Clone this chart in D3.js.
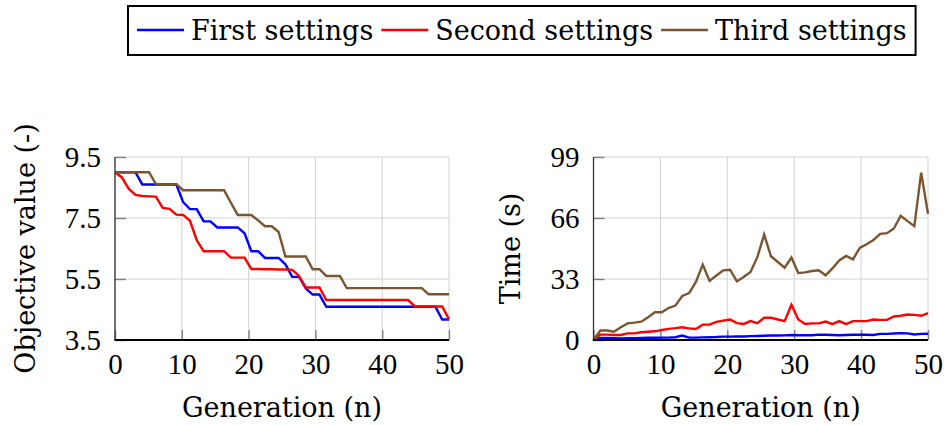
<!DOCTYPE html>
<html>
<head>
<meta charset="utf-8">
<script src="https://cdn.jsdelivr.net/npm/d3@7"></script>
<style>
  html, body { margin: 0; padding: 0; background: #fff; }
  svg { display: block; }
  text { font-family: "DejaVu Serif", "Liberation Serif", serif; fill: #000; }
</style>
</head>
<body>
<svg id="chart" width="944" height="425"></svg>
<script>
// ---------- data ----------
const generations = [0, 1.02, 2.04, 3.06, 4.08, 5.10, 6.12, 7.14, 8.16, 9.18,
  10.20, 11.22, 12.24, 13.27, 14.29, 15.31, 16.33, 17.35, 18.37, 19.39,
  20.41, 21.43, 22.45, 23.47, 24.49, 25.51, 26.53, 27.55, 28.57, 29.59,
  30.61, 31.63, 32.65, 33.67, 34.69, 35.71, 36.73, 37.76, 38.78, 39.80,
  40.82, 41.84, 42.86, 43.88, 44.90, 45.92, 46.94, 47.96, 48.98, 50];

const seriesNames = ["First settings", "Second settings", "Third settings"];

const objFirst = [9.0, 9.0, 9.0, 9.0, 8.6, 8.6, 8.6, 8.6, 8.6, 8.6,
  8.02, 7.79, 7.79, 7.39, 7.39, 7.19, 7.19, 7.19, 7.19, 7.0,
  6.41, 6.41, 6.19, 6.19, 6.19, 5.98, 5.57, 5.57, 5.19, 4.99,
  4.99, 4.59, 4.59, 4.59, 4.59, 4.59, 4.59, 4.59, 4.59, 4.59,
  4.59, 4.59, 4.59, 4.59, 4.59, 4.59, 4.59, 4.59, 4.17, 4.17];
const objSecond = [9.0, 8.83, 8.46, 8.26, 8.22, 8.21, 8.2, 7.83, 7.8, 7.61,
  7.6, 7.41, 6.77, 6.41, 6.41, 6.41, 6.41, 6.2, 6.2, 6.2,
  5.83, 5.83, 5.82, 5.82, 5.81, 5.81, 5.8, 5.6, 5.22, 5.22,
  5.22, 4.81, 4.81, 4.81, 4.81, 4.81, 4.81, 4.81, 4.81, 4.81,
  4.81, 4.81, 4.81, 4.81, 4.6, 4.6, 4.6, 4.6, 4.6, 4.18];
const objThird = [9.0, 9.0, 9.0, 9.0, 9.0, 9.0, 8.61, 8.61, 8.61, 8.61,
  8.41, 8.41, 8.41, 8.41, 8.41, 8.41, 8.41, 8.0, 7.6, 7.6,
  7.6, 7.42, 7.23, 7.23, 7.04, 6.24, 6.24, 6.24, 6.24, 5.82,
  5.82, 5.6, 5.6, 5.6, 5.2, 5.2, 5.2, 5.2, 5.2, 5.2,
  5.2, 5.2, 5.2, 5.2, 5.2, 5.2, 5.0, 5.0, 5.0, 5.0];

const timeFirst = [0, 1.1, 1.1, 1.0, 0.9, 1.0, 1.0, 1.1, 1.2, 1.2,
  1.3, 1.3, 1.5, 2.4, 1.3, 1.3, 1.4, 1.5, 1.6, 1.8,
  1.8, 1.9, 1.9, 2.1, 2.2, 2.3, 2.4, 2.4, 2.5, 2.7,
  2.6, 2.6, 2.6, 2.9, 2.8, 2.7, 2.6, 2.7, 2.8, 2.8,
  2.8, 2.7, 3.3, 3.3, 3.5, 3.7, 3.6, 3.0, 3.3, 3.4];
const timeSecond = [0, 2.9, 2.9, 2.7, 2.7, 3.6, 3.6, 4.2, 4.5, 4.7,
  5.4, 6.0, 6.4, 6.9, 6.3, 6.0, 8.3, 8.3, 9.8, 10.5,
  11.1, 9.1, 8.7, 10.2, 9.1, 12.0, 12.0, 11.1, 10.2, 19.1,
  11.1, 8.7, 9.0, 9.0, 10.0, 8.6, 10.2, 8.6, 10.2, 10.2,
  10.2, 11.1, 10.9, 10.9, 12.7, 13.1, 13.8, 13.6, 13.1, 14.5];
const timeThird = [0, 5.1, 5.1, 4.5, 6.9, 9.0, 9.4, 9.9, 12.3, 15.0,
  15.0, 17.3, 18.6, 23.8, 25.4, 31.4, 40.8, 32.0, 34.9, 37.7,
  38.0, 31.7, 34.1, 36.8, 44.8, 57.0, 45.3, 42.2, 39.1, 44.6,
  36.2, 36.6, 37.3, 37.7, 35.0, 38.7, 43.0, 45.5, 43.6, 49.8,
  51.8, 54.1, 57.4, 57.8, 60.3, 67.2, 64.3, 61.6, 90.5, 68.3];

const xTicks = [0, 10, 20, 30, 40, 50];
const objTicks = [3.5, 5.5, 7.5, 9.5];
const timeTicks = [0, 33, 66, 99];

const xLabel = "Generation (n)";
const objLabel = "Objective value (-)";
const timeLabel = "Time (s)";

// ---------- styling ----------
const colors = ["#0000ff", "#ff0000", "#7a5530"];
const FS = 27;       // label / legend font size
const TICK_FS = 29;  // tick label font size

const svg = d3.select("#chart");
svg.append("rect").attr("width", 944).attr("height", 425).attr("fill", "#fff");

function panel(opts) {
  const { left, right, top, bottom, yDomain, yTicks, yFmt, series, ylabel, ylabelX } = opts;
  const x = d3.scaleLinear().domain([0, 50]).range([left, right]);
  const y = d3.scaleLinear().domain(yDomain).range([bottom, top]);
  const g = svg.append("g");

  // grid
  g.append("g").selectAll("line").data(xTicks).join("line")
    .attr("x1", d => x(d)).attr("x2", d => x(d))
    .attr("y1", top).attr("y2", bottom)
    .attr("stroke", "#d2d2d2").attr("stroke-width", 1);
  g.append("g").selectAll("line").data(yTicks).join("line")
    .attr("x1", left).attr("x2", right)
    .attr("y1", d => y(d)).attr("y2", d => y(d))
    .attr("stroke", "#d2d2d2").attr("stroke-width", 1);

  // axes (ticks + labels)
  const xa = g.append("g").attr("transform", `translate(0,${bottom})`)
    .call(d3.axisBottom(x).tickValues(xTicks).tickSize(-10).tickPadding(13).tickFormat(d3.format("d")));
  const ya = g.append("g").attr("transform", `translate(${left},0)`)
    .call(d3.axisLeft(y).tickValues(yTicks).tickSize(-11).tickPadding(14).tickFormat(yFmt));
  [xa, ya].forEach(a => {
    a.select(".domain").remove();
    a.selectAll(".tick line").attr("stroke", "#808080").attr("stroke-width", 1.4);
    a.selectAll(".tick text")
      .style("font-family", '"Liberation Serif", "DejaVu Serif", serif')
      .style("font-size", TICK_FS + "px").attr("fill", "#000");
  });

  // lines
  const line = d3.line().x((d, i) => x(generations[i])).y(d => y(d));
  series.forEach((s, k) => {
    g.append("path").datum(s).attr("d", line)
      .attr("fill", "none").attr("stroke", colors[k]).attr("stroke-width", 2.4)
      .attr("stroke-linejoin", "miter");
  });

  // spines
  g.append("line").attr("x1", left).attr("x2", left).attr("y1", top).attr("y2", bottom)
    .attr("stroke", "#333").attr("stroke-width", 1.3);
  g.append("line").attr("x1", left - 0.6).attr("x2", right).attr("y1", bottom).attr("y2", bottom)
    .attr("stroke", "#000").attr("stroke-width", 2.2);

  // axis labels
  g.append("text").attr("x", (left + right) / 2).attr("y", 417)
    .attr("text-anchor", "middle").style("font-size", FS + "px").text(xLabel);
  g.append("text").attr("transform", `translate(${ylabelX},${(top + bottom) / 2}) rotate(-90)`)
    .attr("text-anchor", "middle").style("font-size", FS + "px").text(ylabel);
}

panel({
  left: 115, right: 449, top: 157, bottom: 340,
  yDomain: [3.5, 9.5], yTicks: objTicks, yFmt: d3.format(".1f"),
  series: [objFirst, objSecond, objThird], ylabel: objLabel, ylabelX: 35
});
panel({
  left: 593.5, right: 928, top: 157, bottom: 340,
  yDomain: [0, 99], yTicks: timeTicks, yFmt: d3.format("d"),
  series: [timeFirst, timeSecond, timeThird], ylabel: timeLabel, ylabelX: 520
});

// ---------- legend ----------
const leg = svg.append("g");
let cx = 137;
const ly = 30;
seriesNames.forEach((name, k) => {
  leg.append("line").attr("x1", cx).attr("x2", cx + 47).attr("y1", ly).attr("y2", ly)
    .attr("stroke", colors[k]).attr("stroke-width", 2.5);
  cx += 47 + 7;
  const t = leg.append("text").attr("x", cx).attr("y", ly + 10)
    .style("font-size", FS + "px").text(name);
  cx += t.node().getComputedTextLength() + 8;
});
leg.insert("rect", ":first-child").attr("x", 128).attr("y", 6)
  .attr("width", cx - 128 + 1).attr("height", 49)
  .attr("fill", "#fff").attr("stroke", "#000").attr("stroke-width", 2);
</script>
</body>
</html>
